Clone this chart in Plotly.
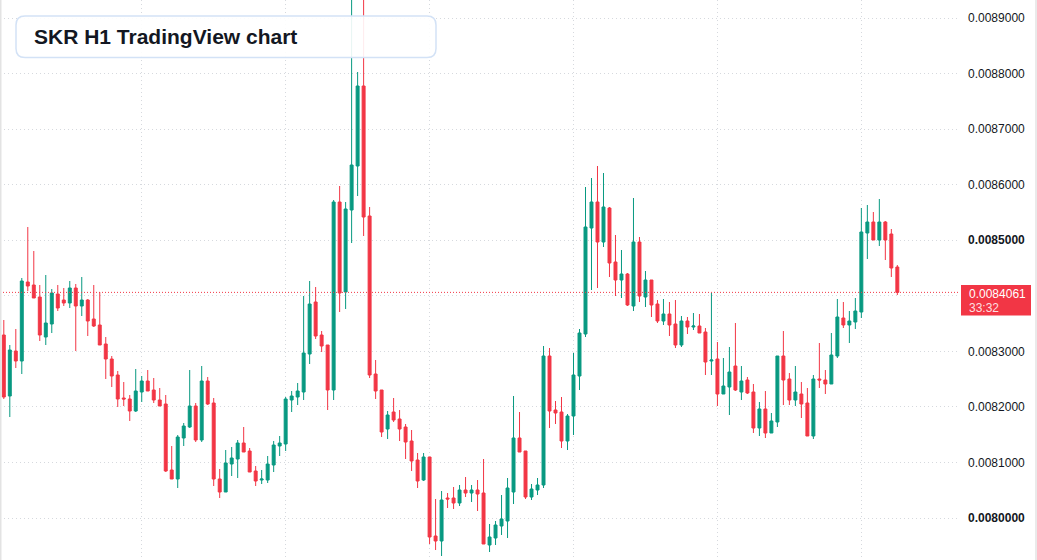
import pandas as pd
import plotly.graph_objects as go

# ---------------- data ----------------
times = pd.date_range("2025-06-09 01:00", periods=150, freq="h")

open_ = [0.0083294,0.0082196,0.0083006,0.0082826,0.0084248,0.0084194,0.0083978,0.0083258,0.0083492,0.0084032,
         0.0083924,0.0083870,0.0084140,0.0083816,0.0083924,0.0083582,0.0083474,0.0083132,0.0082862,0.0082574,
         0.0082160,0.0082142,0.0081926,0.0082268,0.0082466,0.0082304,0.0082124,0.0082052,0.0080864,0.0080702,
         0.0081440,0.0081638,0.0082016,0.0081404,0.0082466,0.0082070,0.0080702,0.0080468,0.0080972,0.0081062,
         0.0081350,0.0081206,0.0080846,0.0080684,0.0080684,0.0080954,0.0081296,0.0081332,0.0082124,0.0082178,
         0.0082268,0.0082952,0.0083888,0.0083294,0.0083114,0.0082304,0.0085688,0.0084068,0.0085544,0.0086336,
         0.0087776,0.0085436,0.0082592,0.0082304,0.0081602,0.0081908,0.0081782,0.0081638,0.0081386,0.0081044,
         0.0080684,0.0081098,0.0079676,0.0079586,0.0080360,0.0080360,0.0080270,0.0080504,0.0080450,0.0080504,
         0.0080450,0.0079514,0.0079640,0.0079856,0.0079946,0.0080468,0.0081440,0.0081206,0.0080378,0.0080504,
         0.0080594,0.0082916,0.0081944,0.0081908,0.0081386,0.0081836,0.0082556,0.0083312,0.0085220,0.0085688,
         0.0084968,0.0085580,0.0084608,0.0084284,0.0084392,0.0083816,0.0084968,0.0083978,0.0084284,0.0083852,
         0.0083546,0.0083672,0.0083492,0.0083114,0.0083546,0.0083438,0.0083456,0.0083348,0.0082826,0.0082862,
         0.0082232,0.0082358,0.0082736,0.0082268,0.0082484,0.0082268,0.0081620,0.0081962,0.0081530,0.0081728,
         0.0082916,0.0082502,0.0082124,0.0082232,0.0082070,0.0081476,0.0082502,0.0082484,0.0082412,0.0082916,
         0.0083600,0.0083474,0.0083528,0.0083708,0.0085130,0.0085328,0.0085004,0.0085328,0.0085112,0.0084518]

high = [0.0083564,0.0083114,0.0083402,0.0084320,0.0085238,0.0084806,0.0084194,0.0084374,0.0084122,0.0084194,
        0.0084140,0.0084266,0.0084212,0.0084338,0.0083942,0.0084194,0.0084068,0.0083258,0.0082916,0.0082646,
        0.0082448,0.0082214,0.0082682,0.0082556,0.0082664,0.0082520,0.0082340,0.0082214,0.0081296,0.0081494,
        0.0081710,0.0082664,0.0082070,0.0082736,0.0082538,0.0082160,0.0080882,0.0081224,0.0081278,0.0081404,
        0.0081638,0.0081260,0.0080936,0.0080864,0.0081116,0.0081386,0.0081476,0.0082178,0.0082286,0.0082430,
        0.0083996,0.0084266,0.0084158,0.0083366,0.0083114,0.0085724,0.0085976,0.0085688,0.0089504,0.0088028,
        0.0089594,0.0085598,0.0082844,0.0082304,0.0081926,0.0082160,0.0081944,0.0081692,0.0081584,0.0081170,
        0.0081170,0.0081098,0.0080342,0.0080486,0.0080450,0.0080558,0.0080594,0.0080738,0.0080594,0.0080684,
        0.0081062,0.0079892,0.0079946,0.0080414,0.0080720,0.0082196,0.0081908,0.0081206,0.0080612,0.0080720,
        0.0083096,0.0083060,0.0082106,0.0082178,0.0081872,0.0082970,0.0083402,0.0085958,0.0086120,0.0086336,
        0.0086210,0.0085598,0.0085094,0.0084824,0.0084410,0.0085760,0.0085058,0.0084446,0.0084284,0.0083924,
        0.0083942,0.0083888,0.0083924,0.0083636,0.0083618,0.0083690,0.0083672,0.0083420,0.0084050,0.0083168,
        0.0082880,0.0083078,0.0083510,0.0082736,0.0082538,0.0082412,0.0082088,0.0082286,0.0081890,0.0082916,
        0.0083366,0.0082610,0.0082736,0.0082448,0.0082340,0.0082574,0.0083150,0.0082664,0.0083330,0.0083942,
        0.0083888,0.0083726,0.0083960,0.0085580,0.0085634,0.0085508,0.0085742,0.0085346,0.0085202,0.0084554]

low = [0.0082142,0.0081818,0.0082700,0.0082592,0.0084086,0.0083960,0.0083186,0.0083114,0.0083330,0.0083726,
       0.0083816,0.0083780,0.0083006,0.0083636,0.0083276,0.0083438,0.0083114,0.0082502,0.0082358,0.0081998,
       0.0082016,0.0081746,0.0081908,0.0082088,0.0082286,0.0082070,0.0082016,0.0080828,0.0080702,0.0080540,
       0.0081296,0.0081620,0.0081368,0.0081368,0.0082034,0.0080576,0.0080360,0.0080468,0.0080756,0.0080720,
       0.0081188,0.0080828,0.0080576,0.0080612,0.0080630,0.0080828,0.0081116,0.0081206,0.0081908,0.0082034,
       0.0082124,0.0082772,0.0083222,0.0082988,0.0081944,0.0082124,0.0083708,0.0083762,0.0084950,0.0085796,
       0.0085076,0.0082520,0.0082142,0.0081458,0.0081422,0.0081728,0.0081386,0.0081062,0.0080846,0.0080540,
       0.0080666,0.0079532,0.0079424,0.0079316,0.0080180,0.0080162,0.0080216,0.0080378,0.0080288,0.0080126,
       0.0079532,0.0079388,0.0079514,0.0079694,0.0079640,0.0080252,0.0081188,0.0080342,0.0080324,0.0080414,
       0.0080540,0.0081620,0.0081692,0.0081260,0.0081224,0.0081494,0.0082304,0.0083258,0.0084104,0.0084140,
       0.0084878,0.0084338,0.0083996,0.0083960,0.0083816,0.0083726,0.0083888,0.0083798,0.0083618,0.0083510,
       0.0083474,0.0083276,0.0083060,0.0083078,0.0083312,0.0083384,0.0083330,0.0082574,0.0082574,0.0082016,
       0.0082232,0.0081854,0.0082286,0.0082124,0.0082232,0.0081530,0.0081476,0.0081440,0.0081530,0.0081638,
       0.0082034,0.0082034,0.0082016,0.0081800,0.0081476,0.0081422,0.0082340,0.0082232,0.0082412,0.0082880,
       0.0083420,0.0083150,0.0083402,0.0083600,0.0084662,0.0085004,0.0084896,0.0084644,0.0084338,0.0084014]

close = [0.0082178,0.0083024,0.0082826,0.0084266,0.0084176,0.0083960,0.0083294,0.0083510,0.0084050,0.0083780,
         0.0083870,0.0084140,0.0083816,0.0083924,0.0083546,0.0083456,0.0083114,0.0082862,0.0082556,0.0082142,
         0.0082142,0.0081926,0.0082286,0.0082466,0.0082286,0.0082124,0.0082016,0.0080846,0.0080702,0.0081458,
         0.0081656,0.0082016,0.0081404,0.0082466,0.0082052,0.0080702,0.0080468,0.0080990,0.0081080,0.0081350,
         0.0081188,0.0080828,0.0080666,0.0080702,0.0080972,0.0081314,0.0081350,0.0082142,0.0082196,0.0082286,
         0.0082970,0.0083852,0.0083276,0.0083096,0.0082304,0.0085688,0.0084050,0.0085562,0.0086354,0.0087776,
         0.0085418,0.0082574,0.0082286,0.0081548,0.0081854,0.0081764,0.0081602,0.0081368,0.0081026,0.0080666,
         0.0081098,0.0079658,0.0079586,0.0080324,0.0080342,0.0080270,0.0080504,0.0080450,0.0080504,0.0080432,
         0.0079532,0.0079658,0.0079874,0.0079982,0.0080540,0.0081440,0.0081188,0.0080378,0.0080522,0.0080594,
         0.0082916,0.0081926,0.0081890,0.0081386,0.0081836,0.0082574,0.0083330,0.0085238,0.0085688,0.0084968,
         0.0085598,0.0084590,0.0084284,0.0084392,0.0083834,0.0084968,0.0083996,0.0084284,0.0083834,0.0083546,
         0.0083672,0.0083474,0.0083114,0.0083546,0.0083438,0.0083456,0.0083330,0.0082808,0.0082844,0.0082232,
         0.0082376,0.0082628,0.0082304,0.0082466,0.0082250,0.0081620,0.0081962,0.0081530,0.0081746,0.0082916,
         0.0082484,0.0082124,0.0082268,0.0082052,0.0081476,0.0082502,0.0082484,0.0082412,0.0082934,0.0083618,
         0.0083474,0.0083546,0.0083726,0.0085148,0.0085328,0.0085004,0.0085328,0.0085004,0.0084500,0.0084061]

ytick_vals = [0.0080, 0.0081, 0.0082, 0.0083, 0.0084, 0.0085, 0.0086, 0.0087, 0.0088, 0.0089]
ytick_text = ["<b>0.0080000</b>", "0.0081000", "0.0082000", "0.0083000", "",
              "<b>0.0085000</b>", "0.0086000", "0.0087000", "0.0088000", "0.0089000"]
last_price = 0.0084061
last_price_text = "0.0084061"
countdown = "33:32"
title_text = "SKR H1 TradingView chart"

# ---------------- styling ----------------
GREEN = "#089981"
RED = "#F23645"
TEXT = "#131722"
GRID = "#d6d9de"
W, H = 1037, 560
ML, MR = 0, 77
PW = W - ML - MR


def px(x):
    return (x - ML) / PW


def py(y):
    return 1 - y / H


fig = go.Figure(go.Candlestick(
    x=times, open=open_, high=high, low=low, close=close,
    increasing=dict(line=dict(color=GREEN, width=1), fillcolor=GREEN),
    decreasing=dict(line=dict(color=RED, width=1), fillcolor=RED),
    whiskerwidth=0, hoverinfo="skip", showlegend=False,
))

hour = pd.Timedelta(hours=1)
x_range = [times[0] - 0.634 * hour, times[0] + 159.45 * hour]

fig.update_layout(
    width=W, height=H,
    margin=dict(l=ML, r=MR, t=0, b=0),
    paper_bgcolor="white", plot_bgcolor="white",
    font=dict(family="Liberation Sans, Arial, sans-serif", color=TEXT, size=12),
    xaxis=dict(
        range=x_range, rangeslider=dict(visible=False),
        showgrid=True, gridcolor=GRID, griddash="1px,3px", gridwidth=1,
        tick0="2025-06-10", dtick=86400000,
        showticklabels=False, ticks="", zeroline=False, showline=False,
    ),
    yaxis=dict(
        side="right", range=[0.0079244, 0.0089324],
        tickvals=ytick_vals, ticktext=ytick_text,
        tickfont=dict(size=12, color=TEXT),
        showgrid=True, gridcolor=GRID, griddash="1px,3px", gridwidth=1,
        ticks="", ticklabelstandoff=7, zeroline=False, showline=False,
    ),
)

shapes = []
# last-price dotted line
shapes.append(dict(type="line", xref="paper", yref="y", x0=0, x1=1,
                   y0=last_price, y1=last_price,
                   line=dict(color=RED, width=1, dash="1px,2px"), layer="above"))
# price label box
shapes.append(dict(type="rect", xref="paper", yref="paper",
                   x0=px(961), x1=px(1031), y0=py(315.5), y1=py(285),
                   fillcolor=RED, line=dict(width=0), layer="above"))
# title box (rounded)
x0, x1, y0, y1, r = 16, 436, 16, 57.5, 9
rx, ry = r / PW, r / H
X0, X1, Y0, Y1 = px(x0), px(x1), py(y0), py(y1)
path = (f"M {X0+rx},{Y0} L {X1-rx},{Y0} Q {X1},{Y0} {X1},{Y0-ry} "
        f"L {X1},{Y1+ry} Q {X1},{Y1} {X1-rx},{Y1} L {X0+rx},{Y1} "
        f"Q {X0},{Y1} {X0},{Y1+ry} L {X0},{Y0-ry} Q {X0},{Y0} {X0+rx},{Y0} Z")
shapes.append(dict(type="path", xref="paper", yref="paper", path=path,
                   fillcolor="rgba(255,255,255,0.9)",
                   line=dict(color="#d3e2f6", width=1.5), layer="above"))
# container side borders
shapes.append(dict(type="line", xref="paper", yref="paper", x0=px(0.75), x1=px(0.75),
                   y0=0, y1=1, line=dict(color="#e3e3e3", width=1.5), layer="above"))
shapes.append(dict(type="line", xref="paper", yref="paper", x0=px(1036), x1=px(1036),
                   y0=0, y1=1, line=dict(color="#e3e3e3", width=1.5), layer="above"))
fig.update_layout(shapes=shapes)

fig.add_annotation(xref="paper", yref="paper", x=px(31.5), y=py(37),
                   xanchor="left", yanchor="middle", showarrow=False,
                   text=f"<b>{title_text}</b>",
                   font=dict(size=21, color=TEXT, family="Liberation Sans, Arial, sans-serif"))
fig.add_annotation(xref="paper", yref="paper", x=px(967), y=py(293.5),
                   xanchor="left", yanchor="middle", showarrow=False,
                   text=last_price_text, font=dict(size=12, color="white"))
fig.add_annotation(xref="paper", yref="paper", x=px(967), y=py(307.5),
                   xanchor="left", yanchor="middle", showarrow=False,
                   text=countdown, font=dict(size=12, color="rgba(255,255,255,0.85)"))

fig.write_html("out.html")
